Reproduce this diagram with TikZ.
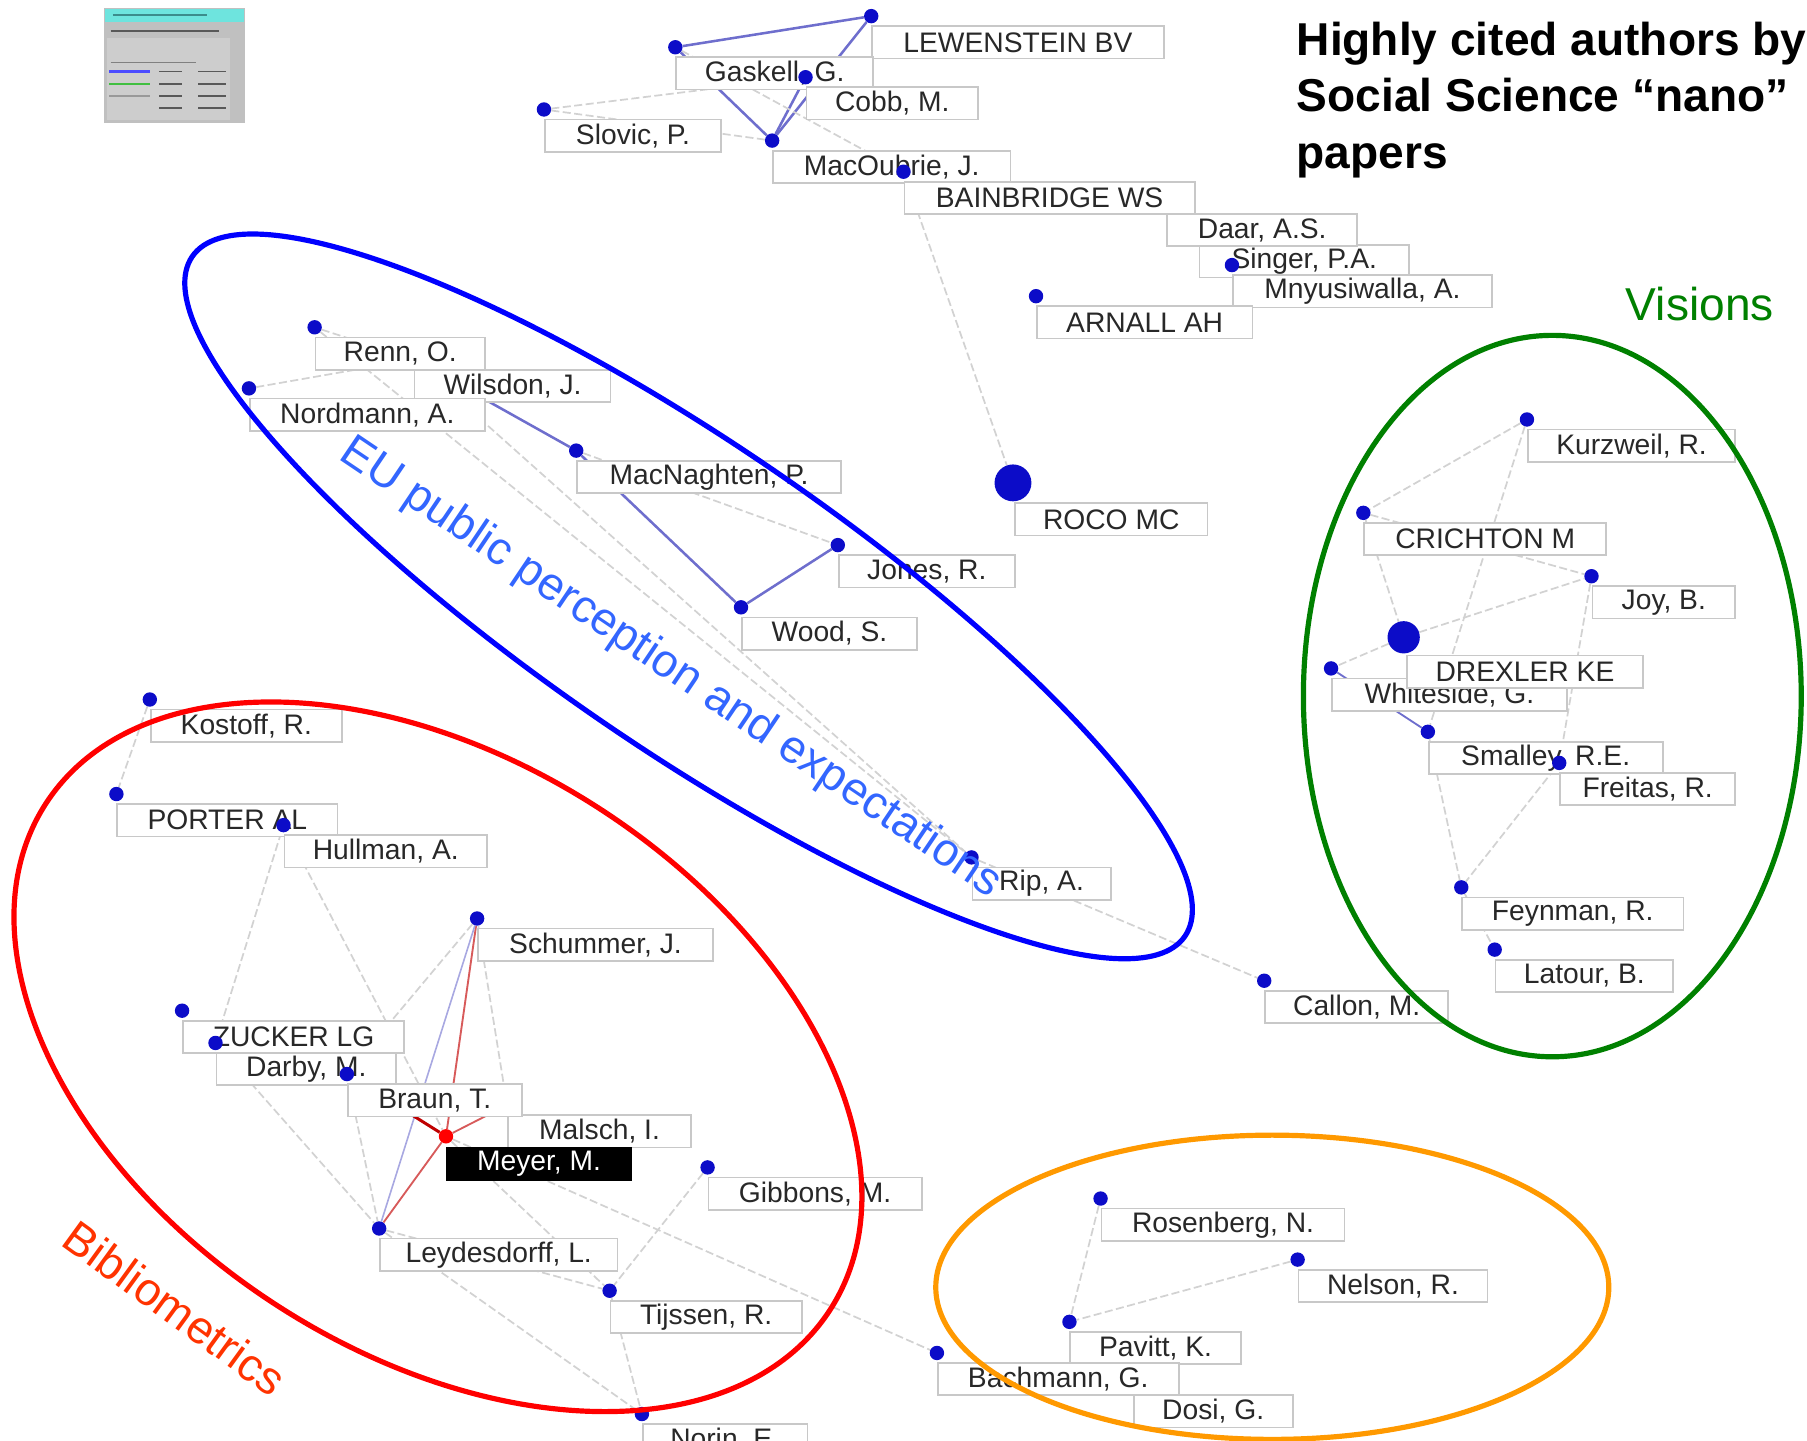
\documentclass[tikz,border=0pt]{standalone}
\usepackage{fontspec}
\setmainfont{Liberation Sans}
\pgfdeclarelayer{edges}
\pgfsetlayers{edges,main}
\definecolor{dotblue}{RGB}{12,12,200}
\definecolor{boxgray}{RGB}{200,200,200}
\definecolor{edgegray}{RGB}{210,210,210}
\definecolor{edgeblue}{RGB}{110,110,205}
\definecolor{edgered}{RGB}{215,90,90}
\definecolor{eublue}{RGB}{51,102,255}
\definecolor{bibred}{RGB}{255,51,0}
\definecolor{visgreen}{RGB}{0,128,0}
\definecolor{orng}{RGB}{255,153,0}
\definecolor{txtgray}{RGB}{40,40,40}
\definecolor{legbg}{RGB}{192,192,192}
\definecolor{legpanel}{RGB}{205,205,205}
\definecolor{legcyan}{RGB}{110,228,222}
\definecolor{legteal}{RGB}{60,140,140}
\tikzset{
 lbl/.style={draw=boxgray, line width=1.5pt, fill=white, minimum height=28pt, inner sep=0pt, anchor=north west, text=txtgray, font=\fontsize{24.5}{28}\selectfont},
 authdot/.style={circle, fill=dotblue, inner sep=0pt, minimum size=12.5pt},
 gline/.style={draw=edgegray, line width=1.5pt, dash pattern=on 7pt off 3pt},
 bline/.style={draw=edgeblue, line width=2.2pt},
 rline/.style={draw=edgered, line width=1.6pt},
 group/.style={line width=4.5pt},
 note/.style={inner sep=0pt, font=\fontsize{40}{48}\selectfont},
}
\newcommand\au[5]{\node[lbl, minimum width=#4pt] (#1) at (#2,#3+8) {#5};\node[authdot] (#1d) at (#2,#3) {};}
\begin{document}
\begin{tikzpicture}[x=1pt,y=-1pt]
\useasboundingbox (0,0) rectangle (1568,1250);
% legend thumbnail
\fill[legbg] (90,7) rectangle (213,107);
\fill[legcyan] (91,8) rectangle (212,19);
\draw[line width=2pt, legteal] (98,13) -- (180,13);
\draw[line width=1.5pt, gray!70!black] (96,27) -- (190,27);
\fill[legpanel] (93,33) rectangle (200,104);
\draw[line width=1pt, gray] (96,54) -- (170,54);
\draw[line width=2pt, blue!70] (95,62) -- (130,62);
\draw[line width=1.5pt, green!50!gray] (95,73) -- (130,73);
\draw[line width=1.5pt, gray!80] (95,83) -- (130,83);
\foreach \yy in {62,73,83,94} {\draw[line width=1.5pt, gray!70!black] (138,\yy) -- (158,\yy); \draw[line width=1.5pt, gray!70!black] (172,\yy) -- (196,\yy);}
% top cluster
\au{lew}{756}{14}{253}{LEWENSTEIN BV}
\au{gask}{586}{41}{171}{Gaskell, G.}
\au{cobb}{699}{67}{149}{Cobb, M.}
\au{slov}{472}{95}{153}{Slovic, P.}
\au{macou}{670}{122}{206}{MacOubrie, J.}
\au{sing}{1040}{204}{182}{Singer, P.A.}
\au{daar}{1012}{177}{165}{Daar, A.S.}
\au{bain}{784}{149}{252}{BAINBRIDGE WS}
\au{mnyu}{1069}{230}{225}{Mnyusiwalla, A.}
\au{arn}{899}{257}{187}{ARNALL AH}
\node[lbl, minimum width=167pt] (roco) at (880,436) {ROCO MC};
\node[authdot, minimum size=32pt] (rocod) at (879,419) {};
% EU cluster
\au{wils}{359}{312}{170}{Wilsdon, J.}
\au{renn}{273}{284}{147}{Renn, O.}
\au{nord}{216}{337}{204}{Nordmann, A.}
\au{macn}{500}{391}{229}{MacNaghten, P.}
\au{jones}{727}{473}{153}{Jones, R.}
\au{wood}{643}{527}{152}{Wood, S.}
\au{rip}{843}{744}{120}{Rip, A.}
\au{callon}{1097}{851}{159}{Callon, M.}
% visions
\au{kurz}{1325}{364}{180}{Kurzweil, R.}
\au{crich}{1183}{445}{210}{CRICHTON M}
\au{joy}{1381}{500}{124}{Joy, B.}
\au{white}{1155}{580}{204}{Whiteside, G.}
\node[lbl, minimum width=205pt] (drex) at (1220,568) {DREXLER KE};
\node[authdot, minimum size=28pt] (drexd) at (1218,553) {};
\au{smal}{1239}{635}{203}{Smalley, R.E.}
\au{frei}{1353}{662}{152}{Freitas, R.}
\au{feyn}{1268}{770}{192}{Feynman, R.}
\au{lat}{1297}{824}{154}{Latour, B.}
% bibliometrics
\au{kost}{130}{607}{166}{Kostoff, R.}
\au{port}{101}{689}{191}{PORTER AL}
\au{hull}{246}{716}{176}{Hullman, A.}
\au{schu}{414}{797}{204}{Schummer, J.}
\au{zuck}{158}{877}{192}{ZUCKER LG}
\au{darby}{187}{905}{156}{Darby, M.}
\au{mals}{440}{959}{159}{Malsch, I.}
\au{braun}{301}{932}{151}{Braun, T.}
\node[lbl, minimum width=160pt, fill=black, draw=black, text=white] (meyer) at (387,995) {Meyer, M.};
\node[authdot, fill=red] (meyerd) at (387,986) {};
\au{gibb}{614}{1013}{185}{Gibbons, M.}
\au{leyd}{329}{1066}{206}{Leydesdorff, L.}
\au{tijs}{529}{1120}{166}{Tijssen, R.}
\au{norin}{557}{1227}{143}{Norin, E.}
% innovation cluster
\au{rosen}{955}{1040}{211}{Rosenberg, N.}
\au{nels}{1126}{1093}{164}{Nelson, R.}
\au{dosi}{983}{1202}{138}{Dosi, G.}
\au{pav}{928}{1147}{148}{Pavitt, K.}
\au{bach}{813}{1174}{209}{Bachmann, G.}
% connectors
\begin{pgfonlayer}{edges}
\draw[bline] (gaskd) -- (lewd);
\draw[bline] (lewd) -- (macoud);
\draw[bline] (gaskd) -- (macoud);
\draw[bline] (cobbd) -- (macoud);
\draw[gline] (slovd) -- (macoud);
\draw[gline] (slovd) -- (cobbd);
\draw[gline] (gaskd) -- (baind);
\draw[gline] (baind) -- (rocod);
\draw[gline] (daard) -- (mnyud);
\draw[gline] (singd) -- (mnyud);
\draw[gline] (nordd) -- (wilsd);
\draw[gline] (rennd) -- (wilsd);
\draw[bline] (wilsd) -- (macnd);
\draw[bline] (macnd) -- (woodd);
\draw[bline] (woodd) -- (jonesd);
\draw[gline] (macnd) -- (jonesd);
\draw[gline] (rennd) -- (ripd);
\draw[gline] (wilsd) -- (ripd);
\draw[gline] (ripd) -- (callond);
\draw[gline] (kurzd) -- (crichd);
\draw[gline] (kurzd) -- (smald);
\draw[gline] (crichd) -- (drexd);
\draw[gline] (crichd) -- (joyd);
\draw[gline] (drexd) -- (joyd);
\draw[gline] (drexd) -- (whited);
\draw[bline, line width=1.6pt] (whited) -- (smald);
\draw[gline] (joyd) -- (freid);
\draw[gline] (smald) -- (feynd);
\draw[gline] (freid) -- (feynd);
\draw[gline] (feynd) -- (latd);
\draw[gline] (kostd) -- (portd);
\draw[gline] (hulld) -- (darbyd);
\draw[gline] (hulld) -- (meyerd);
\draw[gline] (schud) -- (braund);
\draw[rline] (schud) -- (meyerd);
\draw[draw=edgeblue!60, line width=1.4pt] (schud) -- (leydd);
\draw[gline] (schud) -- (malsd);
\draw[rline, line width=2.6pt, draw=red!75!black] (braund) -- (meyerd);
\draw[rline] (meyerd) -- (leydd);
\draw[gline] (braund) -- (leydd);
\draw[rline] (meyerd) -- (malsd);
\draw[gline] (darbyd) -- (leydd);
\draw[gline] (meyerd) -- (bachd);
\draw[gline] (meyerd) -- (tijsd);
\draw[gline] (gibbd) -- (tijsd);
\draw[gline] (leydd) -- (tijsd);
\draw[gline] (leydd) -- (norind);
\draw[gline] (tijsd) -- (norind);
\draw[gline] (rosend) -- (pavd);
\draw[gline] (nelsd) -- (pavd);
\end{pgfonlayer}
% group outlines
\draw[group, blue, rotate around={-34.4:(597.5,517.5)}] (597.5,517.5) ellipse (522 and 132);
\draw[group, red, rotate around={-32.8:(380,917)}] (380,917) ellipse (405 and 257);
\draw[group, visgreen] (1347,604) ellipse (216 and 313);
\draw[group, orng] (1104,1117) ellipse (292 and 132);
% annotations
\node[note, text=eublue, rotate=-34] (eu) at (582,580) {EU public perception and expectations};
\node[note, text=bibred, rotate=-36] (bib) at (152,1135) {Bibliometrics};
\node[note, text=visgreen] (vis) at (1475,264) {Visions};
\node[anchor=north west, inner sep=0pt, align=left, font=\fontsize{40}{49}\selectfont\bfseries] (title) at (1125,19) {Highly cited authors by\\Social Science “nano”\\papers};
\end{tikzpicture}
\end{document}
